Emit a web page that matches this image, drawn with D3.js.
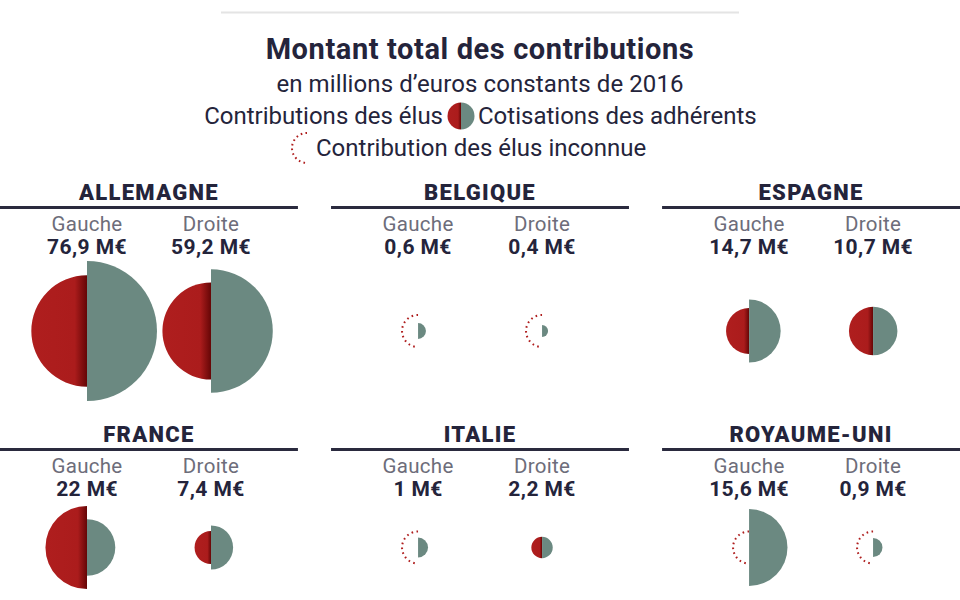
<!DOCTYPE html>
<html>
<head>
<meta charset="utf-8">
<script src="https://cdn.jsdelivr.net/npm/d3@7"></script>
<style>
  body { margin: 0; background: #fff; }
  svg { font-family: Roboto, "Noto Sans", sans-serif; }
</style>
</head>
<body>
<div id="container"></div>
<script>

// Data (millions d'euros constants de 2016)
var countries = ["ALLEMAGNE", "BELGIQUE", "ESPAGNE", "FRANCE", "ITALIE", "ROYAUME-UNI"];
var sides = ["Gauche", "Droite"];
// total shown above each circle
var totals = [[76.9, 59.2], [0.6, 0.4], [14.7, 10.7], [22, 7.4], [1, 2.2], [15.6, 0.9]];
// contributions des élus (null = inconnue)
var elus = [[29.8, 22.7], [null, null], [5.1, 5.6], [16.6, 2.6], [null, 1.1], [null, null]];
// cotisations des adhérents
var cotisations = [[47.1, 36.7], [0.6, 0.35], [9.6, 5.7], [7.7, 4.7], [0.96, 1.1], [14.2, 0.85]];

var width = 960,
    height = 600;

var dark = "#24243b",
    grey = "#6d6d7a",
    red = "#af1e1e",
    green = "#6b8981";

var svg = d3.select("#container")
  .append("svg")
    .attr("width", width)
    .attr("height", height);

// gradient for the red halves (shadow near the split)
var grad = svg.append("defs").append("linearGradient")
    .attr("id", "redGrad")
    .attr("x1", 0).attr("x2", 1).attr("y1", 0).attr("y2", 0);
grad.append("stop").attr("offset", "0").attr("stop-color", red);
grad.append("stop").attr("offset", "0.78").attr("stop-color", "#ab1c1c");
grad.append("stop").attr("offset", "1").attr("stop-color", "#650606");

// radius scale: area of a half disc proportional to the amount
var r = d3.scaleSqrt()
  .domain([0, 50])
  .range([0, 72.1]);

var unknownR = 16;

var leftHalf = function(radius) {
  return d3.arc()({innerRadius: 0, outerRadius: radius, startAngle: Math.PI, endAngle: 2 * Math.PI});
};
var rightHalf = function(radius) {
  return d3.arc()({innerRadius: 0, outerRadius: radius, startAngle: 0, endAngle: Math.PI});
};
var dottedHalf = function(radius) {
  var p = d3.path();
  p.arc(0, 0, radius, -Math.PI / 2, Math.PI / 2, true);
  return p.toString();
};

var fmt = function(v) {
  return String(v).replace(".", ",") + " M\u20ac";
};

// Top rule
svg.append("line")
    .attr("x1", 221).attr("x2", 739)
    .attr("y1", 12.5).attr("y2", 12.5)
    .attr("stroke", "#e4e4e4")
    .attr("stroke-width", 2);

// Title block
svg.append("text")
    .attr("x", 480).attr("y", 59)
    .attr("text-anchor", "middle")
    .attr("fill", dark)
    .style("font-size", "29px")
    .style("font-weight", 700)
    .style("letter-spacing", "0.6px")
    .text("Montant total des contributions");

svg.append("text")
    .attr("x", 480).attr("y", 92)
    .attr("text-anchor", "middle")
    .attr("fill", dark)
    .style("font-size", "24px")
    .style("letter-spacing", "0.1px")
    .text("en millions d\u2019euros constants de 2016");

// Legend
var legend = svg.append("g").attr("fill", dark).style("font-size", "24px");
legend.append("text")
    .attr("x", 443).attr("y", 124)
    .attr("text-anchor", "end")
    .text("Contributions des élus");
legend.append("text")
    .attr("x", 478).attr("y", 124)
    .text("Cotisations des adhérents");
var lg = legend.append("g").attr("transform", "translate(461,116)");
lg.append("path").attr("d", leftHalf(13.5)).attr("fill", "url(#redGrad)");
lg.append("path").attr("d", rightHalf(13.5)).attr("fill", green);

legend.append("path")
    .attr("transform", "translate(307,148)")
    .attr("d", dottedHalf(15))
    .attr("fill", "none")
    .attr("stroke", red)
    .attr("stroke-width", 2)
    .attr("stroke-dasharray", "1.6,3.2");
legend.append("text")
    .attr("x", 316).attr("y", 156)
    .text("Contribution des élus inconnue");

// Grid of countries
var col = d3.scaleBand()
  .domain([0, 1, 2])
  .range([0, width])
  .paddingInner(0.1);

var rowTop = [200, 442];
var rowCircle = [331, 547.5];

countries.forEach(function(name, i) {
  var c = i % 3,
      row = Math.floor(i / 3),
      x0 = col(c),
      y0 = rowTop[row];

  var g = svg.append("g");

  g.append("text")
      .attr("x", x0 + col.bandwidth() / 2).attr("y", y0)
      .attr("text-anchor", "middle")
      .attr("fill", dark)
      .style("font-size", "22px")
      .style("font-weight", 900)
      .style("letter-spacing", "1.3px")
      .text(name);

  g.append("rect")
      .attr("x", x0).attr("y", y0 + 6)
      .attr("width", col.bandwidth()).attr("height", 3)
      .attr("fill", "#2a2a3e");

  var sx = d3.scalePoint()
    .domain(sides)
    .range([x0 + 87, x0 + 211]);

  sides.forEach(function(side, j) {
    var cx = sx(side);

    g.append("text")
        .attr("x", cx).attr("y", y0 + 31)
        .attr("text-anchor", "middle")
        .attr("fill", grey)
        .style("font-size", "20.5px")
        .style("letter-spacing", "0.3px")
        .text(side);

    g.append("text")
        .attr("x", cx).attr("y", y0 + 54)
        .attr("text-anchor", "middle")
        .attr("fill", dark)
        .style("font-size", "21px")
        .style("font-weight", 700)
        .style("letter-spacing", "0.4px")
        .text(fmt(totals[i][j]));

    var cg = g.append("g")
        .attr("transform", "translate(" + cx + "," + rowCircle[row] + ")");

    if (elus[i][j] === null) {
      cg.append("path")
          .attr("d", dottedHalf(unknownR))
          .attr("fill", "none")
          .attr("stroke", red)
          .attr("stroke-width", 2)
          .attr("stroke-dasharray", "1.6,3.4");
    } else {
      cg.append("path")
          .attr("d", leftHalf(r(elus[i][j])))
          .attr("fill", "url(#redGrad)");
    }

    cg.append("path")
        .attr("d", rightHalf(r(cotisations[i][j])))
        .attr("fill", green);
  });
});

</script>
</body>
</html>
